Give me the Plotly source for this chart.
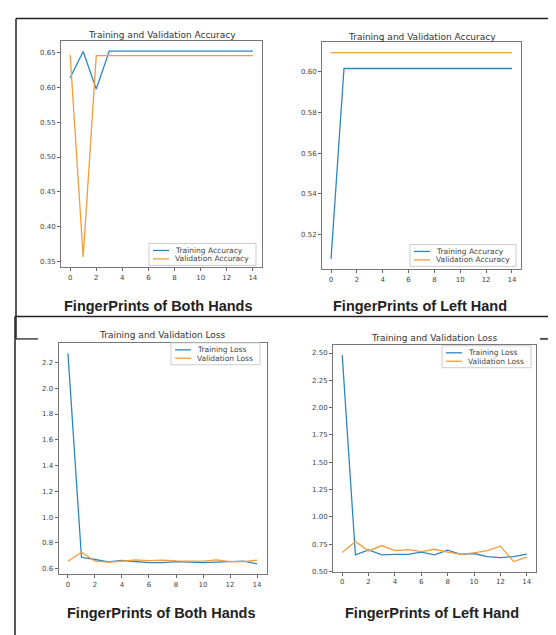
import plotly.graph_objects as go

W, H = 556, 635

epochs = list(range(15))
x_ticks = [0, 2, 4, 6, 8, 10, 12, 14]

# Top-left: accuracy, both hands
acc_both_train = [0.614, 0.652, 0.598, 0.6525, 0.6525, 0.6525, 0.6525, 0.6525,
                  0.6525, 0.6525, 0.6525, 0.6525, 0.6525, 0.6525, 0.6525]
acc_both_val = [0.647, 0.356, 0.646, 0.646, 0.646, 0.646, 0.646, 0.646,
                0.646, 0.646, 0.646, 0.646, 0.646, 0.646, 0.646]
# Top-right: accuracy, left hand
acc_left_train = [0.508, 0.6015, 0.6015, 0.6015, 0.6015, 0.6015, 0.6015, 0.6015,
                  0.6015, 0.6015, 0.6015, 0.6015, 0.6015, 0.6015, 0.6015]
acc_left_val = [0.6093, 0.6093, 0.6093, 0.6093, 0.6093, 0.6093, 0.6093, 0.6093,
                0.6093, 0.6093, 0.6093, 0.6093, 0.6093, 0.6093, 0.6093]
# Bottom-left: loss, both hands
loss_both_train = [2.27, 0.689, 0.672, 0.654, 0.664, 0.654, 0.648, 0.648,
                   0.656, 0.651, 0.648, 0.651, 0.654, 0.659, 0.638]
loss_both_val = [0.659, 0.728, 0.659, 0.651, 0.659, 0.669, 0.664, 0.667,
                 0.662, 0.662, 0.659, 0.669, 0.656, 0.656, 0.667]
# Bottom-right: loss, left hand
loss_left_train = [2.48, 0.652, 0.698, 0.652, 0.658, 0.658, 0.677, 0.652,
                   0.695, 0.658, 0.665, 0.637, 0.628, 0.637, 0.660]
loss_left_val = [0.674, 0.775, 0.689, 0.738, 0.692, 0.701, 0.683, 0.704,
                 0.677, 0.658, 0.671, 0.692, 0.732, 0.591, 0.631]

ticks_tl = [0.35, 0.40, 0.45, 0.50, 0.55, 0.60, 0.65]
ticks_tr = [0.52, 0.54, 0.56, 0.58, 0.60]
ticks_bl = [0.6, 0.8, 1.0, 1.2, 1.4, 1.6, 1.8, 2.0, 2.2]
ticks_br = [0.50, 0.75, 1.00, 1.25, 1.50, 1.75, 2.00, 2.25, 2.50]

acc_names = ["Training Accuracy", "Validation Accuracy"]
loss_names = ["Training Loss", "Validation Loss"]
acc_title = "Training and Validation Accuracy"
loss_title = "Training and Validation Loss"
caption_both = "FingerPrints of Both Hands"
caption_left = "FingerPrints of Left Hand"

BLUE = "#2e86c1"
ORANGE = "#f39c3a"


def rng(*series):
    lo = min(min(s) for s in series)
    hi = max(max(s) for s in series)
    pad = 0.05 * (hi - lo)
    return [lo - pad, hi + pad]


def px_x(p):
    return p / W


def px_y(p):
    return 1 - p / H


# panel boxes in pixels: (left, right, top, bottom); legend boxes (left, right, top)
panels = [
    dict(box=(53, 254, 33, 261), tr=acc_both_train, va=acc_both_val,
         names=acc_names, ticks=ticks_tl, fmt=".2f",
         title=acc_title, title_y=27, caption=caption_both, cap_x=150, cap_y=300,
         leg=(141, 248, 237)),
    dict(box=(314, 513, 34.5, 263), tr=acc_left_train, va=acc_left_val,
         names=acc_names, ticks=ticks_tr, fmt=".2f",
         title=acc_title, title_y=29, caption=caption_left, cap_x=412, cap_y=300,
         leg=(402, 508, 238)),
    dict(box=(50.5, 258.5, 337, 570), tr=loss_both_train, va=loss_both_val,
         names=loss_names, ticks=ticks_bl, fmt=".1f",
         title=loss_title, title_y=329, caption=caption_both, cap_x=153, cap_y=609,
         leg=(163, 252, 337)),
    dict(box=(325, 528, 339, 567.5), tr=loss_left_train, va=loss_left_val,
         names=loss_names, ticks=ticks_br, fmt=".2f",
         title=loss_title, title_y=332, caption=caption_left, cap_x=424, cap_y=609,
         leg=(434, 523, 340)),
]

fig = go.Figure()
layout = dict(
    width=W, height=H, margin=dict(l=0, r=0, t=0, b=0),
    paper_bgcolor="white", plot_bgcolor="white", showlegend=False,
    font=dict(family="DejaVu Sans", size=7, color="#444"),
)
annotations = []
shapes = []


def hline(x0, x1, y, color="#222", w=1.5):
    shapes.append(dict(type="line", xref="paper", yref="paper",
                       x0=px_x(x0), x1=px_x(x1), y0=px_y(y), y1=px_y(y),
                       line=dict(color=color, width=w)))


def vline(x, y0, y1, color="#222", w=1.5):
    shapes.append(dict(type="line", xref="paper", yref="paper",
                       x0=px_x(x), x1=px_x(x), y0=px_y(y0), y1=px_y(y1),
                       line=dict(color=color, width=w)))


for i, p in enumerate(panels, start=1):
    sfx = "" if i == 1 else str(i)
    l, r, t, b = p["box"]
    colors = [BLUE, ORANGE]
    for series, name, col in zip([p["tr"], p["va"]], p["names"], colors):
        fig.add_trace(go.Scatter(x=epochs, y=series, mode="lines", name=name,
                                 line=dict(color=col, width=1.3),
                                 xaxis=f"x{sfx}", yaxis=f"y{sfx}"))
    layout[f"xaxis{sfx}"] = dict(
        domain=[px_x(l), px_x(r)], anchor=f"y{sfx}", range=rng(epochs),
        tickvals=x_ticks, ticks="outside", ticklen=3, tickcolor="#666",
        showline=True, linecolor="#777", linewidth=1, mirror=True,
        showgrid=False, zeroline=False, tickfont=dict(size=7, color="#444"),
    )
    layout[f"yaxis{sfx}"] = dict(
        domain=[px_y(b), px_y(t)], anchor=f"x{sfx}", range=rng(p["tr"], p["va"]),
        tickvals=p["ticks"], tickformat=p["fmt"], ticks="outside", ticklen=3,
        tickcolor="#666", showline=True, linecolor="#777", linewidth=1, mirror=True,
        showgrid=False, zeroline=False, tickfont=dict(size=7, color="#444"),
    )
    # legend (matplotlib style), built from the trace names
    ll, lr, lt = p["leg"]
    shapes.append(dict(type="rect", xref="paper", yref="paper",
                       x0=px_x(ll), x1=px_x(lr), y0=px_y(lt + 22), y1=px_y(lt),
                       line=dict(color="#cccccc", width=1), fillcolor="white", layer="above"))
    for k, (name, col) in enumerate(zip(p["names"], colors)):
        ry = lt + 7 + 8.5 * k
        hline(ll + 4, ll + 20, ry, color=col, w=1.3)
        annotations.append(dict(
            text=name, x=px_x(ll + 24), y=px_y(ry), xref="paper", yref="paper",
            showarrow=False, xanchor="left", yanchor="middle",
            font=dict(family="DejaVu Sans", size=7.5, color="#444"),
        ))
    annotations.append(dict(
        text=p["title"], x=px_x((l + r) / 2), y=px_y(p["title_y"]),
        xref="paper", yref="paper", showarrow=False, xanchor="center", yanchor="middle",
        font=dict(family="DejaVu Sans", size=9, color="#333"),
    ))
    annotations.append(dict(
        text="<b>" + p["caption"] + "</b>", x=px_x(p["cap_x"]), y=px_y(p["cap_y"]),
        xref="paper", yref="paper", showarrow=False, xanchor="center", yanchor="middle",
        font=dict(family="Liberation Sans", size=14.5, color="#222"),
    ))

# composite frame lines
hline(8, 556, 10.5)
vline(8, 10.5, 333)
hline(8, 30, 333, color="#444")
hline(7, 556, 310.5)
vline(7, 310.5, 635)
hline(532, 556, 333, color="#555", w=2)

layout["annotations"] = annotations
layout["shapes"] = shapes
fig.update_layout(**layout)
fig.write_html("out.html")
